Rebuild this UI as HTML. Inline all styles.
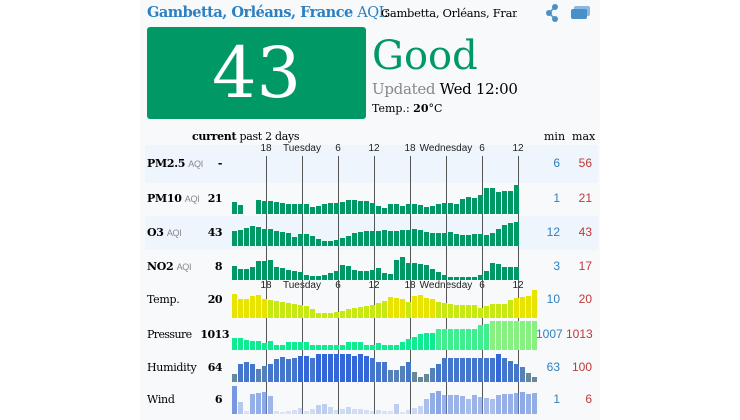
<!DOCTYPE html>
<html><head><meta charset="utf-8"><style>
body{margin:0;width:740px;height:420px;background:#fff;overflow:hidden;font-family:"DejaVu Serif","Liberation Serif",serif;position:relative}
.a{position:absolute;white-space:nowrap}
.s{font-family:"Liberation Sans",sans-serif}
</style></head><body>
<div class="a" style="left:140px;top:0;width:460px;height:420px;background:#f8f9fa"></div>
<div class="a" style="left:145px;top:145px;width:453px;height:38px;background:#eef5fc"></div>
<div class="a" style="left:145px;top:216px;width:453px;height:34px;background:#eef5fc"></div>
<div class="a" style="left:147px;top:4px;font-size:14.5px;color:#2c7fc0;font-weight:bold;letter-spacing:-0.5px">Gambetta, Orléans, France <span style="font-weight:normal">AQI</span><span style="color:#000;font-weight:normal">:</span></div>
<div class="a" style="left:381px;top:6px;font-size:11.5px;width:136px;overflow:hidden;letter-spacing:-0.3px">Gambetta, Orléans, France</div>
<svg class="a" style="left:543px;top:2px" width="50" height="22"><circle cx="12" cy="5" r="3" fill="#4a90c8"/><circle cx="6" cy="11" r="3" fill="#4a90c8"/><circle cx="12" cy="17" r="3" fill="#4a90c8"/><path d="M12 5L6 11L12 17" stroke="#4a90c8" stroke-width="1.5" fill="none"/><rect x="31" y="4" width="16" height="10" rx="2" fill="#8ab8e0"/><rect x="28" y="7" width="16" height="10" rx="2" fill="#4a90c8"/></svg>
<div class="a" style="left:147px;top:27px;width:219px;height:92px;background:#009966;border-radius:3px"></div>
<div class="a" style="left:147px;top:27px;width:219px;height:92px;text-align:center;line-height:92px;font-size:70px;color:#fff">43</div>
<div class="a" style="left:372px;top:32px;font-size:40px;color:#009966;line-height:48px">Good</div>
<div class="a" style="left:372px;top:80px;font-size:15px;letter-spacing:-0.3px"><span style="color:#888">Updated</span> Wed 12:00</div>
<div class="a" style="left:372px;top:102px;font-size:11px">Temp.: <b>20</b>°C</div>
<div class="a" style="left:192px;top:130px;font-size:11px;letter-spacing:-0.3px"><b>current</b> past 2 days</div>
<div class="a" style="left:544px;top:130px;font-size:11px">min &nbsp;max</div>
<div id="c"></div>
<script>
var c=document.getElementById('c'),h='';
function t(x,y,s,st){h+='<div class="a" style="left:'+x+'px;top:'+y+'px;'+(st||'')+'">'+s+'</div>';}
var ticks=[[266,'18'],[302,'Tuesday'],[338,'6'],[374,'12'],[410,'18'],[446,'Wednesday'],[482,'6'],[518,'12']];
function tickrow(y){ticks.forEach(function(k){var w=k[1].length>2?60:20;t(k[0]-w/2,y,k[1],'width:'+w+'px;text-align:center;font-size:10px;font-family:Liberation Sans,sans-serif;color:#222');});}
tickrow(143);tickrow(280);
ticks.forEach(function(k){h+='<div class="a" style="left:'+k[0]+'px;top:156px;width:1px;height:258px;background:#555"></div>';});
var rows=[
['PM2.5',1,'-',164,214,[],'6','56',null],
['PM10',1,'21',199,214,[12,9,0,0,14,13,13,12,11,10,10,10,10,7,8,10,11,11,12,14,14,13,13,11,8,6,10,10,8,10,10,9,7,8,10,11,11,10,15,17,16,19,26,26,22,23,23,29],'1','21','g'],
['O3',1,'43',233,246,[15,16,18,20,19,17,17,15,14,13,9,12,12,10,7,5,5,6,8,10,13,14,15,15,15,16,15,15,16,16,17,16,14,13,13,13,14,12,11,11,12,12,11,13,17,21,23,24,25,26],'12','43','g'],
['NO2',1,'8',267,280,[14,11,11,13,19,19,20,13,12,10,9,8,5,4,4,5,7,9,15,14,10,9,9,10,12,7,6,20,23,17,17,16,15,11,8,5,3,3,3,3,3,5,9,17,16,13,13,13,14,13],'3','17','g'],
['Temp.',0,'20',300,318,[24,19,19,22,23,19,18,17,16,15,14,13,12,9,5,5,5,6,7,9,10,11,12,13,15,17,21,20,19,16,22,23,20,19,16,15,14,13,13,13,13,10,12,14,14,14,18,20,21,22,28],'10','20','t'],
['Pressure',0,'1013',335,350,[12,12,10,9,9,7,9,5,5,8,8,8,8,5,5,5,5,5,5,8,8,8,5,5,7,5,5,5,8,11,13,16,17,17,21,21,21,21,21,21,21,25,26,29,29,29,29,29,29,29,29],'1007','1013','p'],
['Humidity',0,'64',368,382,[8,18,20,18,13,16,18,23,25,23,24,26,26,24,28,28,28,28,28,28,26,28,26,24,20,20,12,12,16,20,10,5,8,14,18,24,24,24,24,24,24,24,24,24,28,24,21,18,15,9,5,5],'63','100','h'],
['Wind',0,'6',400,414,[28,12,3,20,21,22,18,3,2,3,4,6,3,5,9,10,7,4,5,7,5,5,4,3,4,3,3,10,2,4,6,8,15,21,23,19,19,19,18,15,19,17,16,15,19,20,20,21,22,20,21],'1','6','w']];
rows.forEach(function(r){
 t(147,r[3]-7,r[1]?'<b>'+r[0]+'</b> <span class="s" style="font-size:9px;color:#888">AQI</span>':r[0],'font-size:11px;letter-spacing:'+(r[0]=='Pressure'?'-0.6px':'-0.3px'));
 var rx=r[2]=='1013'?229:222;
 t(rx-45,r[3]-7,r[2],'width:45px;text-align:right;font-size:11px;font-weight:bold;letter-spacing:-0.5px');
 t(536,r[3]-8,r[6],'width:24px;text-align:right;font-size:12px;color:#2c7fc0;font-family:Liberation Sans,sans-serif');
 t(566,r[3]-8,r[7],'width:26px;text-align:right;font-size:12px;color:#c03838;font-family:Liberation Sans,sans-serif');
 var d=r[5]; if(r[1]) d=d.slice(0,48); else d=d.slice(0,51);
 for(var i=0;i<d.length;i++){if(!d[i])continue;var v=d[i],col;
  if(r[8]=='g')col='#009966';
  else if(r[8]=='t')col=v>18?'#e8e400':'#c8e814';
  else if(r[8]=='p')col=v>=29?'#88f080':(v>=21?'#40ee90':'#10ea90');
  else if(r[8]=='h')col=v>=26?'#3366d8':(v>=18?'#4477cc':(v>=12?'#5580b8':'#668899'));
  else col='rgba(90,130,220,'+(0.12+v/40)+')';
  h+='<div class="a" style="left:'+(232+i*6)+'px;top:'+(r[4]-v)+'px;width:5px;height:'+v+'px;background:'+col+'"></div>';}
});
c.innerHTML=h;
</script>
</body></html>
